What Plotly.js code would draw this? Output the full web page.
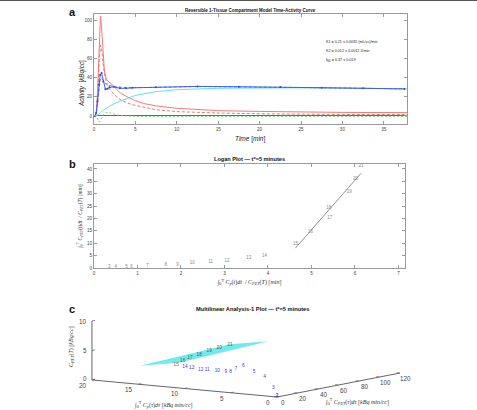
<!DOCTYPE html>
<html>
<head>
<meta charset="utf-8">
<script src="https://cdn.plot.ly/plotly-3.0.1.min.js"></script>
<style>
  html, body { margin: 0; padding: 0; background: #fff; }
  #fig { width: 477px; height: 410px; }
</style>
</head>
<body>
<div id="fig"></div>
<script>
// ---------- Panel a: time-activity curves ----------
const frameMid = [0.083, 0.25, 0.417, 0.583, 0.75, 0.917, 1.125, 1.375, 1.625, 1.875,
                  2.375, 3.125, 3.875, 4.625, 7.5, 12.5, 17.5, 22.5, 27.5, 32.5, 37.5];
const tacMeasured = [0, 3, 15, 33, 43, 45, 36, 28, 28.5, 30, 30.5, 29, 29, 29.5,
                     30, 31, 30.6, 30.4, 29.6, 29, 28.3];
const tacFit = [0, 2, 12, 28, 38, 40, 37, 34, 33, 32, 31, 30, 29.6, 29.6,
                30.2, 30.8, 30.5, 30.2, 29.6, 29, 28.4];

const bloodT = [0, 0.3, 0.5, 0.65, 0.78, 0.9, 1.05, 1.25, 1.5, 1.75, 2.0, 2.3, 2.7, 3.2,
                4, 5, 6, 7.5, 10, 12.5, 15, 20, 25, 30, 37.8];
const bloodActivity = [0, 2, 40, 90, 105, 95, 70, 48, 38, 36, 35, 32, 28, 24,
                       20, 16, 13, 10.5, 8, 6.5, 5.5, 4.7, 4.1, 3.7, 3.4];

const plasmaT = [0, 0.3, 0.5, 0.65, 0.8, 0.95, 1.1, 1.3, 1.6, 2.0, 2.5, 3, 4, 5,
                 7.5, 10, 15, 20, 30, 37.8];
const plasmaActivity = [0, 2, 30, 62, 74, 68, 55, 42, 33, 27, 22, 18, 13.5, 11,
                        6.5, 4.5, 3, 2.2, 1.6, 1.4];

const tissueT = [0.3, 0.5, 0.75, 1, 1.5, 2, 3, 4, 5, 7.5, 10, 15, 20, 25, 30, 37.8];
const tissueCompartment = [0, 1, 3, 5, 8, 11, 15, 18.5, 21.5, 25.5, 27.5, 29, 29.5, 29.5, 29.2, 28.5];

const vascT = [0, 0.3, 0.5, 0.6, 0.75, 0.9, 1.1, 1.4, 1.7, 2.0, 2.5, 3, 4, 5, 7.5, 10, 20, 37.8];
const vascComponent = [0, -1, -5, -6.5, -5, -2, 1, 3, 4, 3, 1.5, 0.5, 0, -0.5, -0.5, -0.5, -0.5, -0.5];

const paramLines = [
  'K1 = 0.21 ± 0.0092 (mL/cc)/min',
  'K2 = 0.012 ± 0.0012 1/min',
  'f<sub>ND</sub> = 0.37 ± 0.019'
];

// ---------- Panel b: Logan plot ----------
const loganFrames = [3, 4, 5, 6, 7, 8, 9, 10, 11, 12, 13, 14, 15, 16, 17, 18, 19, 20, 21];
const loganX = [0.35, 0.50, 0.75, 0.86, 1.23, 1.65, 1.92, 2.26, 2.68, 3.06, 3.56, 3.92,
                4.63, 4.98, 5.42, 5.40, 5.87, 6.01, 6.14];
const loganY = [0.3, 0.3, 0.5, 0.5, 0.9, 1.1, 1.3, 1.9, 2.5, 3.0, 4.0, 4.9,
                9.9, 14.7, 20.4, 24.2, 30.9, 35.9, 41.2];
const tStarFrame = 15;

// ---------- Panel c: multilinear analysis (MA1) ----------
const maFrames = [1, 2, 3, 4, 5, 6, 7, 8, 9, 10, 11, 12, 13, 14, 15, 16, 17, 18, 19, 20, 21];
const intCp = [0, 0.05, 0.6, 1.9, 3.4, 4.9, 6.0, 6.9, 7.6, 8.7, 9.9, 10.8, 11.9, 12.7,
               13.5, 14.3, 15.0, 15.7, 16.4, 17.1, 17.7];
const intCpet = [0, 0.45, 1.8, 5.15, 8.24, 11.3, 14.1, 17.1, 18.8, 20.3, 21.3, 23.0, 24.2, 24.9,
                 26.2, 37.1, 50.5, 65.9, 82.0, 98.0, 113.9];
const cpetT = [0.17, 0.15, 1.43, 2.89, 3.42, 4.21, 3.45, 2.71, 2.5, 2.58, 2.48, 2.29, 2.38, 2.41,
               2.98, 2.85, 2.76, 2.69, 2.63, 2.56, 2.52];
const maTicksX = [0, 5, 10, 15, 20];
const maTicksY = [0, 20, 40, 60, 80, 100, 120];
const maTicksZ = [0, 5, 10];

// ---------- helpers ----------
function linFit(xs, ys) {
  const n = xs.length;
  const mx = xs.reduce((a, b) => a + b, 0) / n;
  const my = ys.reduce((a, b) => a + b, 0) / n;
  let sxy = 0, sxx = 0;
  for (let i = 0; i < n; i++) { sxy += (xs[i] - mx) * (ys[i] - my); sxx += (xs[i] - mx) ** 2; }
  const slope = sxy / sxx;
  return { slope, intercept: my - slope * mx };
}
function planeFit(xs, ys, zs) {
  // least squares z = c + a*x + b*y
  const M = [[0,0,0],[0,0,0],[0,0,0]], v = [0,0,0];
  for (let i = 0; i < xs.length; i++) {
    const r = [1, xs[i], ys[i]];
    for (let p = 0; p < 3; p++) { v[p] += r[p] * zs[i]; for (let q = 0; q < 3; q++) M[p][q] += r[p] * r[q]; }
  }
  for (let c = 0; c < 3; c++) {
    let piv = c;
    for (let r = c + 1; r < 3; r++) if (Math.abs(M[r][c]) > Math.abs(M[piv][c])) piv = r;
    [M[c], M[piv]] = [M[piv], M[c]]; [v[c], v[piv]] = [v[piv], v[c]];
    for (let r = c + 1; r < 3; r++) {
      const f = M[r][c] / M[c][c];
      for (let q = c; q < 3; q++) M[r][q] -= f * M[c][q];
      v[r] -= f * v[c];
    }
  }
  const s = [0,0,0];
  for (let r = 2; r >= 0; r--) {
    let acc = v[r];
    for (let q = r + 1; q < 3; q++) acc -= M[r][q] * s[q];
    s[r] = acc / M[r][r];
  }
  return { c: s[0], a: s[1], b: s[2] };
}

// Orthographic 3-D view for panel c (x axis runs right-to-left, like a reversed XDir)
const view = { az: -55.5, el: 7.7 };
const boxLen = { x: 224.5, y: 217, z: 59.5 };
const maRange = { x: [0, 20], y: [0, 120], z: [0, 10] };
function project(X, Y, Z) {
  const th = view.az * Math.PI / 180, ph = view.el * Math.PI / 180;
  const wx = -(X - maRange.x[0]) / (maRange.x[1] - maRange.x[0]) * boxLen.x;
  const wy = (Y - maRange.y[0]) / (maRange.y[1] - maRange.y[0]) * boxLen.y;
  const wz = (Z - maRange.z[0]) / (maRange.z[1] - maRange.z[0]) * boxLen.z;
  return [-Math.sin(th) * wx + Math.cos(th) * wy,
          -Math.sin(ph) * Math.cos(th) * wx - Math.sin(ph) * Math.sin(th) * wy + Math.cos(ph) * wz];
}
function segTrace(segs, color, width) {
  const x = [], y = [];
  segs.forEach(([p, q]) => { x.push(p[0], q[0], null); y.push(p[1], q[1], null); });
  return { x, y, type: 'scatter', mode: 'lines', line: { color, width },
           xaxis: 'x3', yaxis: 'y3', hoverinfo: 'skip' };
}

const SANS = 'Liberation Sans, Arial, sans-serif';
const SERIF = 'Liberation Serif, DejaVu Serif, serif';

// ---------- traces ----------
const traces = [];

// panel a
traces.push({ x: bloodT, y: bloodActivity, type: 'scatter', mode: 'lines',
  line: { color: '#f27a7a', width: 1 }, xaxis: 'x', yaxis: 'y', hoverinfo: 'skip' });
traces.push({ x: plasmaT, y: plasmaActivity, type: 'scatter', mode: 'lines',
  line: { color: '#e86a6a', width: 0.9, dash: '3px,2px' }, xaxis: 'x', yaxis: 'y', hoverinfo: 'skip' });
traces.push({ x: tissueT, y: tissueCompartment, type: 'scatter', mode: 'lines',
  line: { color: '#5fe3e8', width: 1 }, xaxis: 'x', yaxis: 'y', hoverinfo: 'skip' });
traces.push({ x: vascT, y: vascComponent, type: 'scatter', mode: 'lines',
  line: { color: '#5cd45c', width: 0.9, dash: '2px,2px' }, xaxis: 'x', yaxis: 'y', hoverinfo: 'skip' });
traces.push({ x: frameMid, y: tacFit, type: 'scatter', mode: 'lines',
  line: { color: '#5566e6', width: 0.9, dash: '3px,2px' }, xaxis: 'x', yaxis: 'y', hoverinfo: 'skip' });
traces.push({ x: frameMid, y: tacMeasured, type: 'scatter', mode: 'lines+markers',
  line: { color: '#4a5de2', width: 1 }, marker: { color: '#3347cc', size: 2 },
  xaxis: 'x', yaxis: 'y', hoverinfo: 'skip' });

// panel b
traces.push({ x: loganX, y: loganY, type: 'scatter', mode: 'text',
  text: loganFrames.map(String), textfont: { family: SANS, size: 4.5, color: '#888' },
  xaxis: 'x2', yaxis: 'y2', hoverinfo: 'skip' });
const fitI = loganFrames.map((f, i) => (f >= tStarFrame ? i : -1)).filter(i => i >= 0);
const fx = fitI.map(i => loganX[i]), fy = fitI.map(i => loganY[i]);
const lf = linFit(fx, fy);
const lx = [Math.min(...fx), Math.max(...fx)];
traces.push({ x: lx, y: lx.map(v => lf.intercept + lf.slope * v), type: 'scatter', mode: 'lines',
  line: { color: '#777', width: 0.8 }, xaxis: 'x2', yaxis: 'y2', hoverinfo: 'skip' });

// panel c: fitted plane over the frames after t*
const late = maFrames.map((f, i) => (f >= tStarFrame ? i : -1)).filter(i => i >= 0);
const px = late.map(i => intCp[i]), py = late.map(i => intCpet[i]), pz = late.map(i => cpetT[i]);
const pl = planeFit(px, py, pz);
const xr = [Math.min(...px), Math.max(...px)], yr = [Math.min(...py), Math.max(...py)];
const corners = [[xr[0], yr[0]], [xr[1], yr[0]], [xr[1], yr[1]], [xr[0], yr[1]], [xr[0], yr[0]]]
  .map(([X, Y]) => project(X, Y, pl.c + pl.a * X + pl.b * Y));
traces.push({ x: corners.map(p => p[0]), y: corners.map(p => p[1]), type: 'scatter', mode: 'lines',
  fill: 'toself', fillcolor: 'rgba(95,232,236,0.9)', line: { width: 0, color: 'rgba(0,0,0,0)' },
  xaxis: 'x3', yaxis: 'y3', hoverinfo: 'skip' });

// panel c: box axes with ticks
const O = project(0, 0, 0);
traces.push(segTrace([
  [O, project(maRange.x[1], 0, 0)],
  [O, project(0, maRange.y[1], 0)],
  [project(maRange.x[1], 0, 0), project(maRange.x[1], 0, maRange.z[1])]
], '#666', 1));
traces.push(segTrace([
  ...maTicksX.map(v => [project(v, 0, 0), project(v, 3, 0)]),
  ...maTicksY.map(v => [project(0, v, 0), project(0.35, v, 0)]),
  ...maTicksZ.map(v => [project(maRange.x[1], 0, v), project(maRange.x[1], 3, v)])
], '#666', 0.8));

// panel c: frame labels
function maText(sel, color, pos) {
  const pts = sel.map(i => project(intCp[i], intCpet[i], cpetT[i]));
  return { type: 'scatter', mode: 'text', x: pts.map(p => p[0]), y: pts.map(p => p[1]),
    text: sel.map(i => String(maFrames[i])),
    textfont: { family: SANS, size: 4.8, color }, textposition: pos || 'middle center',
    xaxis: 'x3', yaxis: 'y3', hoverinfo: 'skip' };
}
const early = maFrames.map((f, i) => (f < tStarFrame ? i : -1)).filter(i => i >= 0);
const atStar = maFrames.map((f, i) => (f === tStarFrame ? i : -1)).filter(i => i >= 0);
const after = maFrames.map((f, i) => (f > tStarFrame ? i : -1)).filter(i => i >= 0);
traces.push(maText(early, '#3a3ad8'));
traces.push(maText(atStar, '#e04040', 'bottom left'));
traces.push(maText(after, '#555555'));

// ---------- layout ----------
const tickFont = { family: SANS, size: 4.6, color: '#444' };
const boxAxis = {
  showline: true, mirror: 'ticks', linecolor: '#9a9a9a', linewidth: 1,
  ticks: 'inside', ticklen: 3, tickcolor: '#9a9a9a', tickfont: tickFont,
  showgrid: false, zeroline: false, fixedrange: true
};

const ann = [];
function label(text, x, y, opts) {
  ann.push(Object.assign({ text, x, y, xref: 'paper', yref: 'paper', showarrow: false,
    xanchor: 'center', yanchor: 'middle', font: { family: SANS, size: 6.5, color: '#111' } }, opts || {}));
}
const W = 477, H = 410;
const px2x = v => v / W, px2y = v => 1 - v / H;

label('<b>a</b>', px2x(72), px2y(12), { font: { family: SANS, size: 11, color: '#111' } });
label('<b>b</b>', px2x(72), px2y(164), { font: { family: SANS, size: 11, color: '#111' } });
label('<b>c</b>', px2x(72), px2y(309), { font: { family: SANS, size: 11, color: '#111' } });
label('<b>Reversible 1-Tissue Compartment Model Time-Activity Curve</b>', px2x(251), px2y(10),
  { font: { family: SANS, size: 4.5, color: '#111' } });
label('<b>Logan Plot — t*=5 minutes</b>', px2x(249), px2y(159),
  { font: { family: SANS, size: 5.6, color: '#111' } });
label('<b>Multilinear Analysis-1 Plot — t*=5 minutes</b>', px2x(252), px2y(309),
  { font: { family: SANS, size: 5.7, color: '#111' } });
paramLines.forEach((t, k) => label(t, px2x(324), px2y(42 + 9 * k),
  { xanchor: 'left', font: { family: SANS, size: 3.7, color: '#222' } }));

// panel a axis titles
label('<i>Time</i> [<i>min</i>]', px2x(251), px2y(139),
  { font: { family: SANS, size: 6.5, color: '#222' } });
label('<i>Activity</i>  [<i>kBq/cc</i>]', px2x(82), px2y(84),
  { textangle: -90, font: { family: SANS, size: 6.3, color: '#222' } });

// panel c tick labels, placed at the projected tick positions
const tick3dFont = { family: SANS, size: 6.3, color: '#444' };
maTicksX.forEach(v => { const p = project(v, 0, 0);
  ann.push({ text: String(v), x: p[0], y: p[1], xref: 'x3', yref: 'y3', showarrow: false,
    xanchor: 'center', yanchor: 'middle', xshift: -9, yshift: -5.5, font: tick3dFont }); });
maTicksY.forEach(v => { const p = project(0, v, 0);
  ann.push({ text: String(v), x: p[0], y: p[1], xref: 'x3', yref: 'y3', showarrow: false,
    xanchor: 'center', yanchor: 'middle', xshift: 6, yshift: -5.5, font: tick3dFont }); });
maTicksZ.forEach(v => { const p = project(maRange.x[1], 0, v);
  ann.push({ text: String(v), x: p[0], y: p[1], xref: 'x3', yref: 'y3', showarrow: false,
    xanchor: 'right', yanchor: 'middle', xshift: -3, yshift: v === 0 ? 1 : 0, font: tick3dFont }); });

// panel c axis titles
label('<i>C<sub>PET</sub></i>(<i>T</i>) [<i>kBq/cc</i>]', px2x(71), px2y(347),
  { textangle: -90, font: { family: SERIF, size: 6, color: '#333' } });
label('∫<sub>0</sub><sup>T</sup> <i>C<sub>p</sub></i>(<i>τ</i>)<i>dτ</i> [<i>kBq min/cc</i>]', px2x(163), px2y(404),
  { font: { family: SERIF, size: 6, color: '#333' } });
label('∫<sub>0</sub><sup>T</sup> <i>C<sub>PET</sub></i>(<i>τ</i>)<i>dτ</i> [<i>kBq min/cc</i>]', px2x(357), px2y(401),
  { font: { family: SERIF, size: 6, color: '#333' } });

const layout = {
  width: W, height: H,
  margin: { l: 0, r: 0, t: 0, b: 0 },
  paper_bgcolor: '#fff', plot_bgcolor: 'rgba(0,0,0,0)',
  showlegend: false,
  xaxis: Object.assign({}, boxAxis, {
    domain: [px2x(94), px2x(407)], anchor: 'y', range: [0, 37.8],
    tickvals: [0, 5, 10, 15, 20, 25, 30, 35]
  }),
  yaxis: Object.assign({}, boxAxis, {
    domain: [px2y(124), px2y(14)], anchor: 'x', range: [-8.5, 107],
    tickvals: [0, 20, 40, 60, 80, 100],
    zeroline: true, zerolinecolor: '#4b7a4b', zerolinewidth: 1
  }),
  xaxis2: Object.assign({}, boxAxis, {
    domain: [px2x(94), px2x(405)], anchor: 'y2', range: [0, 7.15],
    tickvals: [0, 1, 2, 3, 4, 5, 6, 7],
    title: { text: '∫<sub>0</sub><sup>T</sup> <i>C<sub>p</sub></i>(<i>t</i>)<i>dt</i>  / <i>C<sub>PET</sub></i>(<i>T</i>) [<i>min</i>]',
             font: { family: SERIF, size: 6, color: '#333' }, standoff: 5 }
  }),
  yaxis2: Object.assign({}, boxAxis, {
    domain: [px2y(268), px2y(164)], anchor: 'x2', range: [0, 42],
    tickvals: [0, 5, 10, 15, 20, 25, 30, 35, 40],
    title: { text: '∫<sub>0</sub><sup>T</sup> <i>C<sub>PET</sub></i>(<i>t</i>)<i>dt</i>  / <i>C<sub>PET</sub></i>(<i>T</i>) [<i>min</i>]',
             font: { family: SERIF, size: 5.5, color: '#333' }, standoff: 4 }
  }),
  // panel c canvas: one axis unit equals one screen pixel
  xaxis3: { domain: [0, 1], anchor: 'y3', range: [-277, 200], visible: false, fixedrange: true },
  yaxis3: { domain: [0, 0.3], anchor: 'x3', range: [-13, 110], visible: false, fixedrange: true },
  annotations: ann,
  shapes: [
    { type: 'line', xref: 'paper', yref: 'paper', x0: 0, x1: 1, y0: 1, y1: 1,
      line: { color: '#555', width: 2 } }
  ]
};

Plotly.newPlot('fig', traces, layout, { displayModeBar: false, staticPlot: true });
</script>
</body>
</html>
